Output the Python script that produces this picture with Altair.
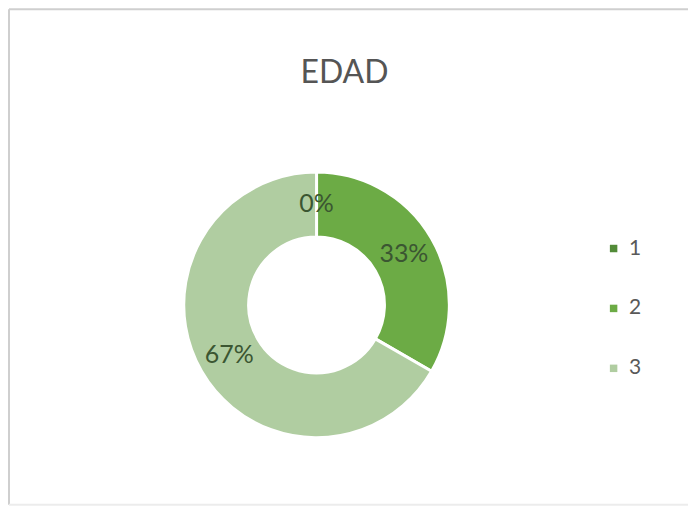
import altair as alt
import pandas as pd

categories = ["1", "2", "3"]
percents = [0, 33.33, 66.67]
labels = ["0%", "33%", "67%"]
colors = ["#528b38", "#6cab45", "#b0cda1"]
title_text = "EDAD"

df = pd.DataFrame({"cat": categories, "pct": percents, "label": labels, "ord": [0, 1, 2]})

W, H = 681, 498
CX, CY = 309, 297

base = alt.Chart(df).encode(
    theta=alt.Theta("pct:Q", stack=True),
    order=alt.Order("ord:Q"),
)

arcs = base.mark_arc(innerRadius=68, outerRadius=133, stroke="white", strokeWidth=3).encode(
    x=alt.value(CX),
    y=alt.value(CY),
    color=alt.Color(
        "cat:N",
        scale=alt.Scale(domain=categories, range=colors),
        legend=alt.Legend(
            title=None,
            orient="none",
            legendX=596,
            legendY=230,
            symbolType="square",
            symbolSize=56,
            symbolStrokeWidth=0,
            labelFontSize=21,
            labelFont="Lato",
            labelColor="#595959",
            labelOffset=5,
            rowPadding=38,
        ),
    ),
)

texts = base.mark_text(radius=101, fontSize=25, font="Lato", color="#3b5632").encode(
    x=alt.value(CX),
    y=alt.value(CY),
    text="label:N",
)

title_df = pd.DataFrame({"t": [title_text]})
title = alt.Chart(title_df).mark_text(fontSize=32, font="Lato", color="#555555", baseline="middle").encode(
    x=alt.value(337),
    y=alt.value(65),
    text="t:N",
)

frame_df = pd.DataFrame({"a": [0]})
frame_color = "#cfcfcf"
top = alt.Chart(frame_df).mark_rule(color=frame_color, strokeWidth=2).encode(
    x=alt.value(1), x2=alt.value(W), y=alt.value(1)
)
left = alt.Chart(frame_df).mark_rule(color=frame_color, strokeWidth=2).encode(
    x=alt.value(1), y=alt.value(1), y2=alt.value(H - 1)
)
bottom = alt.Chart(frame_df).mark_rule(color="#ececec", strokeWidth=2).encode(
    x=alt.value(1), x2=alt.value(W), y=alt.value(H - 1)
)

chart = alt.layer(top, left, bottom, arcs, texts, title).properties(
    width=W, height=H, padding=0, background="white"
).configure_view(stroke=None)

chart.save("out.html", embed_options={"renderer": "svg", "actions": False})
